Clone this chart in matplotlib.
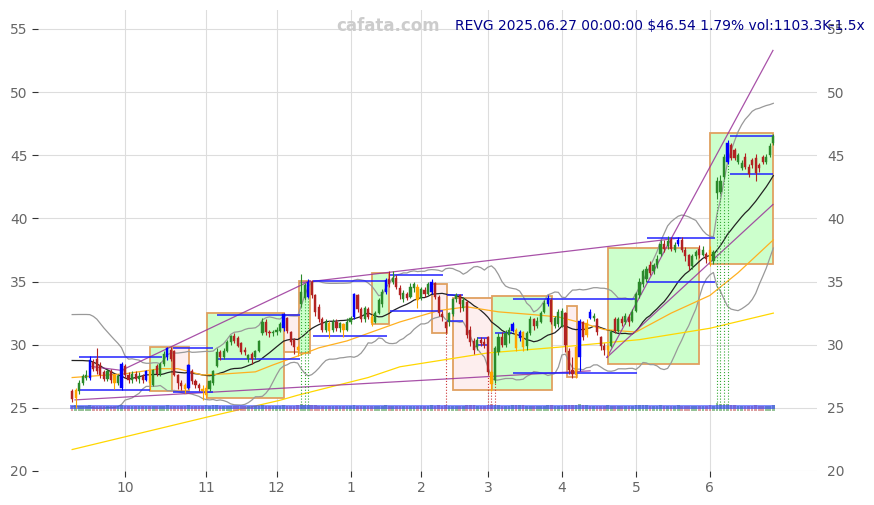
import numpy as np
import pandas as pd
import matplotlib
matplotlib.use("Agg")
import matplotlib.pyplot as plt
from matplotlib.patches import Rectangle

title_text = "REVG 2025.06.27 00:00:00 $46.54 1.79% vol:1103.3K-1.5x"
watermark = "cafata.com"

# x axis = trading-day index, labels at first session of each month
month_labels = ["10", "11", "12", "1", "2", "3", "4", "5", "6"]
month_start = [15, 38, 58, 79, 99, 118, 139, 160, 181]

# daily OHLC, 2024-09-10 .. 2025-06-27 (one row per month)
opens = [
    26.3, 25.8, 26.3, 27.0, 27.4, 27.4, 28.6, 28.9, 28.4, 27.8, 27.3, 27.9, 27.6, 27.0, 26.6,
    28.3, 27.6, 27.2, 27.7, 27.3, 27.5, 27.2, 27.9, 26.8, 28.3, 27.7, 28.5, 29.0, 29.6, 29.5, 27.6, 27.0, 26.8, 26.6, 27.9, 27.1, 26.8, 26.5,
    26.0, 26.5, 27.0, 28.3, 29.4, 29.0, 29.5, 30.2, 30.7, 30.5, 30.1, 29.6, 28.9, 29.3, 29.0, 29.5, 30.9, 31.8, 31.0, 30.9,
    31.0, 31.1, 31.3, 32.1, 31.0, 30.4, 29.8, 33.2, 33.7, 33.8, 35.0, 33.9, 33.0, 32.0, 31.2, 31.7, 31.2, 31.8, 31.3, 31.6, 31.2,
    31.8, 32.2, 33.9, 32.8, 32.0, 32.8, 32.2, 31.8, 32.5, 33.2, 34.2, 35.2, 35.0, 35.3, 34.5, 33.6, 34.0, 33.8, 34.5, 34.6,
    33.7, 34.3, 34.0, 34.2, 34.9, 33.8, 32.4, 31.8, 31.8, 32.4, 33.6, 33.9, 32.9, 33.4, 31.2, 30.3, 29.8, 30.4, 30.2,
    30.6, 27.8, 27.2, 29.4, 30.6, 30.0, 30.8, 31.1, 31.2, 30.5, 31.0, 29.9, 30.9, 32.0, 31.5, 31.8, 32.6, 33.2, 33.5, 31.5, 31.6,
    31.5, 32.5, 29.5, 28.0, 27.6, 29.0, 31.8, 30.8, 32.6, 32.1, 32.0, 30.6, 29.9, 29.6, 29.9, 32.0, 31.1, 32.0, 31.8, 32.2, 31.9,
    32.7, 33.9, 34.8, 35.2, 36.3, 35.8, 36.3, 37.2, 38.0, 37.8, 38.3, 37.5, 38.0, 38.3, 37.5, 37.1, 36.2, 37.0, 37.6, 37.1, 37.2,
    37.5, 36.6, 42.0, 42.1, 43.3, 44.5, 45.8, 45.4, 44.5, 44.0, 44.9, 44.1, 44.6, 44.8, 44.2, 44.9, 44.5, 45.0, 46.0,
]
highs = [
    26.5, 26.6, 27.2, 27.7, 28.0, 29.1, 28.9, 29.7, 28.6, 28.0, 28.1, 28.1, 27.7, 27.7, 28.6,
    28.5, 27.8, 27.9, 27.9, 27.8, 27.7, 28.0, 28.0, 28.1, 28.5, 28.6, 29.5, 29.8, 29.8, 29.6, 27.7, 27.2, 27.0, 28.5, 28.1, 27.3, 27.0, 26.8,
    26.8, 27.2, 28.0, 29.7, 29.6, 29.7, 30.4, 30.8, 30.9, 30.7, 30.2, 29.8, 29.3, 29.4, 29.6, 30.4, 32.1, 32.0, 31.2, 31.2,
    31.4, 31.8, 32.5, 32.2, 31.1, 30.5, 30.0, 35.6, 34.9, 35.2, 35.1, 34.0, 33.2, 32.2, 32.0, 31.9, 32.0, 32.0, 31.8, 31.7, 32.1,
    32.3, 34.1, 34.0, 33.0, 33.1, 33.0, 32.4, 32.7, 33.7, 34.4, 35.3, 35.8, 35.8, 35.5, 34.7, 34.3, 34.2, 34.9, 35.0, 34.8,
    34.6, 34.6, 35.0, 35.2, 35.0, 33.9, 32.7, 31.9, 32.6, 33.7, 34.1, 34.0, 33.8, 33.5, 31.5, 30.5, 30.6, 30.6, 30.5,
    30.7, 28.0, 29.9, 30.9, 31.0, 31.2, 31.4, 31.8, 31.3, 31.2, 31.1, 31.1, 32.3, 32.1, 32.2, 32.7, 33.5, 33.9, 33.7, 32.3, 32.8,
    32.9, 32.6, 29.7, 29.0, 30.0, 32.0, 31.9, 32.0, 32.8, 32.5, 32.1, 30.7, 30.1, 30.0, 31.2, 32.2, 32.2, 32.3, 32.5, 32.4, 32.8,
    34.2, 35.3, 36.0, 36.2, 36.6, 36.5, 37.1, 38.3, 38.3, 38.6, 38.5, 38.1, 38.5, 38.5, 37.7, 37.2, 37.2, 37.5, 37.9, 37.8, 37.3,
    37.8, 37.5, 43.3, 43.4, 45.1, 46.2, 46.0, 45.6, 45.2, 44.6, 45.2, 44.3, 44.8, 45.1, 44.4, 45.0, 45.1, 46.0, 46.7,
]
lows = [
    25.5, 25.0, 26.1, 26.8, 27.2, 27.2, 27.9, 27.7, 27.4, 27.1, 27.1, 27.0, 26.5, 26.8, 26.4,
    27.4, 27.0, 27.0, 27.1, 27.0, 27.0, 27.1, 26.4, 26.7, 27.5, 27.5, 28.3, 28.8, 28.7, 27.5, 26.5, 26.4, 26.2, 26.5, 26.9, 26.6, 26.3, 25.6,
    25.8, 26.3, 26.8, 28.2, 28.8, 28.9, 29.4, 30.0, 30.1, 29.8, 29.3, 29.2, 28.6, 28.5, 28.9, 29.4, 30.8, 30.8, 30.6, 30.7,
    30.8, 31.0, 31.1, 30.9, 30.0, 29.3, 29.1, 33.0, 33.5, 33.7, 33.7, 32.3, 31.8, 31.0, 31.0, 30.5, 31.0, 31.1, 31.0, 30.6, 31.1,
    31.6, 32.0, 32.6, 31.8, 31.8, 32.0, 31.5, 31.7, 32.4, 33.0, 34.0, 34.6, 34.8, 34.4, 33.6, 33.4, 33.5, 33.7, 34.2, 32.9,
    33.5, 33.8, 33.9, 34.0, 33.6, 32.3, 31.9, 30.9, 31.5, 32.3, 33.4, 32.6, 32.7, 30.5, 29.9, 29.3, 29.6, 29.9, 29.7,
    27.6, 26.3, 27.0, 29.2, 29.8, 29.8, 30.1, 31.0, 29.5, 30.3, 29.5, 29.6, 30.8, 31.2, 31.3, 31.7, 32.5, 33.1, 31.6, 31.3, 31.4,
    31.4, 29.4, 27.7, 27.4, 27.4, 27.9, 30.4, 30.6, 32.0, 31.9, 30.8, 29.6, 29.2, 29.1, 29.8, 30.9, 31.0, 31.5, 31.6, 31.5, 31.8,
    32.6, 33.7, 34.6, 35.0, 35.5, 35.6, 36.1, 37.0, 37.3, 37.6, 37.4, 37.3, 37.8, 37.3, 36.6, 35.9, 36.0, 36.8, 36.9, 37.0, 36.5,
    36.2, 36.4, 41.5, 41.9, 43.1, 44.3, 44.6, 44.6, 44.3, 43.8, 43.9, 43.3, 44.0, 43.0, 43.7, 44.3, 44.3, 44.9, 45.8,
]
closes = [
    25.7, 26.4, 27.0, 27.5, 27.6, 28.8, 28.1, 27.9, 27.6, 27.3, 27.9, 27.2, 27.0, 27.5, 28.5,
    27.6, 27.2, 27.7, 27.3, 27.5, 27.2, 27.9, 27.0, 28.0, 27.7, 28.5, 29.3, 29.7, 28.9, 27.6, 27.0, 26.7, 26.5, 28.4, 27.1, 26.8, 26.6, 26.3,
    26.6, 27.1, 27.9, 29.4, 29.0, 29.5, 30.2, 30.7, 30.3, 29.9, 29.4, 29.4, 29.2, 28.9, 29.5, 30.3, 31.8, 31.0, 30.9, 31.0,
    31.2, 31.6, 32.4, 31.1, 30.2, 29.8, 29.6, 34.2, 34.7, 35.0, 33.9, 32.6, 32.0, 31.2, 31.8, 31.1, 31.8, 31.3, 31.7, 31.2, 31.8,
    32.1, 34.0, 32.8, 32.0, 32.9, 32.2, 31.7, 32.5, 33.5, 34.2, 35.1, 34.8, 35.3, 34.6, 33.9, 34.1, 33.7, 34.6, 34.8, 33.5,
    34.4, 34.0, 34.8, 35.0, 33.8, 32.5, 32.2, 31.3, 32.5, 33.6, 33.9, 33.2, 33.5, 30.8, 30.2, 29.6, 30.4, 30.1, 30.0,
    27.8, 26.9, 29.7, 30.6, 30.0, 30.9, 31.2, 31.6, 29.7, 31.0, 29.8, 30.9, 32.0, 31.5, 31.9, 32.5, 33.3, 33.7, 31.8, 32.1, 32.6,
    32.7, 30.0, 28.0, 27.7, 29.8, 31.9, 30.6, 31.7, 32.1, 32.3, 31.0, 29.9, 29.6, 29.9, 31.0, 31.1, 32.0, 31.7, 32.3, 31.8, 32.6,
    34.0, 35.0, 35.8, 36.0, 35.7, 36.3, 36.8, 38.0, 37.6, 38.2, 37.6, 37.9, 38.3, 37.5, 37.0, 36.2, 37.0, 37.3, 37.1, 37.5, 36.8,
    36.6, 37.3, 43.0, 43.0, 44.9, 46.0, 44.8, 44.8, 45.0, 44.4, 44.1, 43.5, 44.2, 43.6, 44.0, 44.5, 44.9, 45.72, 46.54,
]
volumes = [  # thousands of shares
    820, 1400, 900, 760, 680, 1100, 640, 720, 590, 610, 540, 620, 700, 560, 980,
    650, 580, 520, 600, 540, 500, 760, 880, 700, 620, 680, 720, 950, 640, 880, 760, 690, 800, 1050, 720, 610, 580, 900,
    1200, 860, 940, 1500, 820, 700, 880, 760, 640, 700, 720, 560, 600, 640, 580, 820, 1300, 760, 620, 480,
    700, 660, 1150, 820, 760, 900, 980, 2600, 1400, 1500, 1100, 980, 840, 760, 620, 700, 560, 520, 480, 640, 600,
    680, 1300, 900, 760, 700, 640, 820, 600, 760, 880, 1200, 820, 700, 760, 680, 620, 580, 660, 700, 900,
    760, 640, 720, 1100, 880, 960, 820, 1400, 860, 900, 760, 700, 680, 1500, 1100, 980, 820, 760, 700,
    1700, 1900, 1500, 1100, 900, 840, 800, 1000, 1100, 960, 1000, 820, 900, 760, 700, 680, 820, 1000, 960, 760, 700,
    720, 1100, 1400, 1500, 1300, 1800, 1000, 1100, 820, 700, 860, 900, 820, 1000, 880, 760, 700, 640, 660, 600, 720,
    1400, 1500, 1200, 1000, 900, 820, 860, 1200, 900, 880, 760, 700, 1000, 820, 760, 800, 700, 640, 720, 660, 700,
    1000, 900, 3200, 2100, 1900, 2200, 1400, 1100, 900, 820, 900, 860, 760, 1000, 800, 720, 760, 900, 1103.3,
]
# 19 sessions before the window, only used to seed the 20-day bands
pre_closes = [26.5, 27.0, 27.5, 28.0, 29.0, 30.0, 30.5, 31.0, 30.8, 30.5,
              30.2, 30.0, 29.8, 30.2, 30.6, 29.0, 26.5, 26.0, 26.2]

blue_days = [5, 14, 21, 27, 33, 60, 67, 80, 89, 102, 125, 127, 135, 144, 147, 172, 186]
orange_days = [1, 12, 22, 32, 37, 38, 64, 73, 77, 85, 98, 119, 126, 128, 143, 146, 152, 181]

# longer moving averages
ma50_days = [0, 15, 25, 30, 37, 44, 52, 57, 64, 70, 78, 93, 104, 112, 121, 130, 138, 145, 151, 160, 170, 181, 189, 199]
ma50_vals = [27.4, 27.7, 28.1, 28.1, 27.6, 27.7, 27.85, 28.4, 29.1, 29.75, 30.3, 31.8, 32.7, 33.0, 32.6, 32.4,
             32.2, 31.7, 31.2, 31.0, 32.5, 33.9, 35.7, 38.3]
ma200_days = [0, 38, 59, 64, 84, 93, 118, 138, 161, 181, 199]
ma200_vals = [21.7, 24.25, 25.6, 26.0, 27.4, 28.25, 29.35, 29.8, 30.4, 31.3, 32.5]

# trend lines: (day0, price0, day1, price1)
trend_lines = [
    (0.8, 25.63, 147, 27.93),
    (5.6, 28.27, 14.4, 27.95),
    (14.2, 28.0, 67.5, 35.05),
    (64.7, 34.9, 172.5, 38.45),
    (151.8, 29.0, 198.9, 53.3),
    (151.8, 29.0, 198.9, 41.1),
]
# support / resistance segments: (day0, day1, price)
levels = [
    (2, 25.5, 29.05), (2, 22.1, 26.4),
    (28.6, 40, 29.7), (28.6, 40, 26.25),
    (41.1, 64.7, 32.35), (41.1, 64.7, 28.9),
    (68.4, 89.4, 35.05), (68.4, 89.4, 30.7),
    (90.2, 105.2, 35.5), (90.2, 105.2, 32.7),
    (106.4, 110.9, 33.95), (106.4, 110.9, 31.9),
    (114.9, 118, 30.5), (114.9, 118, 30.0),
    (120, 124.8, 30.9),
    (125.1, 160.3, 33.6), (125.1, 160.3, 27.75),
    (163.1, 182.4, 38.45), (163.1, 182.4, 35.0),
    (186.7, 198.9, 46.5), (186.7, 198.9, 43.5),
]
# range boxes: (day0, day1, low, high, direction)
boxes = [
    (22.1, 28.3, 26.35, 29.8, "up"), (28.3, 33.2, 26.35, 29.8, "down"),
    (38.3, 60.1, 25.8, 32.5, "up"), (60.1, 64.4, 29.4, 32.35, "down"),
    (64.4, 67.5, 29.35, 35.05, "up"), (85.1, 89.9, 31.65, 35.7, "up"),
    (102.1, 106.4, 30.95, 34.8, "down"), (108.1, 119.2, 26.4, 33.7, "down"),
    (119.2, 136.2, 26.4, 33.85, "up"), (140.4, 143.3, 27.45, 33.1, "down"),
    (152.1, 177.9, 28.5, 37.65, "up"), (181.0, 199.0, 36.4, 46.8, "up"),
]
signal_up = [65, 66, 67, 183, 184, 185, 186]
signal_down = [106, 118, 119, 120]

o = np.array(opens)
h = np.array(highs)
l = np.array(lows)
c = np.array(closes)
v = np.array(volumes)
days = np.arange(len(c))

full = pd.Series(pre_closes + closes)
mid = full.rolling(20).mean().iloc[len(pre_closes):].values
sd = full.rolling(20).std(ddof=0).iloc[len(pre_closes):].values

fig = plt.figure(figsize=(8.74, 5.05), dpi=100)
ax = fig.add_axes([38 / 874, 1 - 471 / 505, 779 / 874, 461 / 505])

# boxes
for d0, d1, lo, hi, kind in boxes:
    face = "#ccffcc" if kind == "up" else "#fdeeee"
    ax.add_patch(Rectangle((d0, lo), d1 - d0, hi - lo, facecolor=face,
                           edgecolor="#e0a060", lw=1.3, zorder=1))

# moving averages / bands
ax.plot(days, mid + 2 * sd, color="#999999", lw=0.9, zorder=2)
ax.plot(days, mid - 2 * sd, color="#999999", lw=0.9, zorder=2)
ax.plot(days, mid, color="#222222", lw=0.9, zorder=2)
ax.plot(ma50_days, ma50_vals, color="#ffb020", lw=0.9, zorder=2)
ax.plot(ma200_days, ma200_vals, color="#ffd700", lw=0.9, zorder=2)

for d0, p0, d1, p1 in trend_lines:
    ax.plot([d0, d1], [p0, p1], color="#993399", lw=0.9, alpha=0.85, zorder=2)

for d0, d1, p in levels:
    ax.hlines(p, d0, d1, color="#2222ff", lw=1.1, zorder=2)

# signal markers under candles
ax.vlines(signal_up, 25, l[signal_up], color="#33aa33", lw=0.8, linestyles=":", zorder=2)
ax.vlines(signal_down, 25, l[signal_down], color="#cc3333", lw=0.8, linestyles=":", zorder=2)

# volume strip along 25
up = c >= o
vol_h = 0.36 + 0.3 * v / v.max()
ax.bar(days[up], vol_h[up], bottom=24.74, width=0.75, color="#6aa86a", alpha=0.7, zorder=3)
ax.bar(days[~up], vol_h[~up], bottom=24.74, width=0.75, color="#cc7777", alpha=0.7, zorder=3)
ax.hlines([24.97, 25.13], -0.5, len(c) - 0.5, color="#3344ff", lw=1.1, alpha=0.8, zorder=3.5)

# candles
colors = np.where(up, "#2a8a2a", "#b22222").astype(object)
colors[blue_days] = "#0000ff"
colors[orange_days] = "#ffa500"
body = np.maximum(np.abs(c - o), 0.06)
ax.vlines(days, l, h, color=list(colors), lw=0.8, zorder=4)
ax.bar(days, body, bottom=np.minimum(o, c), width=0.62, color=list(colors),
       edgecolor=list(colors), lw=0.3, zorder=4)

ax.set_xlim(-9.7, 211.4)
ax.set_ylim(20, 56.5)
ax.set_yticks(range(20, 56, 5))
ax.set_xticks(month_start)
ax.set_xticklabels(month_labels)
ax.grid(True, color="#dddddd", lw=0.8)
ax.set_axisbelow(True)
for s in ax.spines.values():
    s.set_visible(False)
ax.tick_params(axis="both", labelsize=10, labelcolor="#666666", color="#333333", length=4)
ax.tick_params(axis="y", left=True, right=False, labelleft=True, labelright=True)

fig.text(388 / 874, 1 - 26 / 505, watermark, fontsize=12, fontweight="bold",
         color="#cccccc", ha="center", va="center")
fig.text(865 / 874, 1 - 26 / 505, title_text, fontsize=10, color="#00008b",
         ha="right", va="center")

fig.savefig("out.png", dpi=100)
